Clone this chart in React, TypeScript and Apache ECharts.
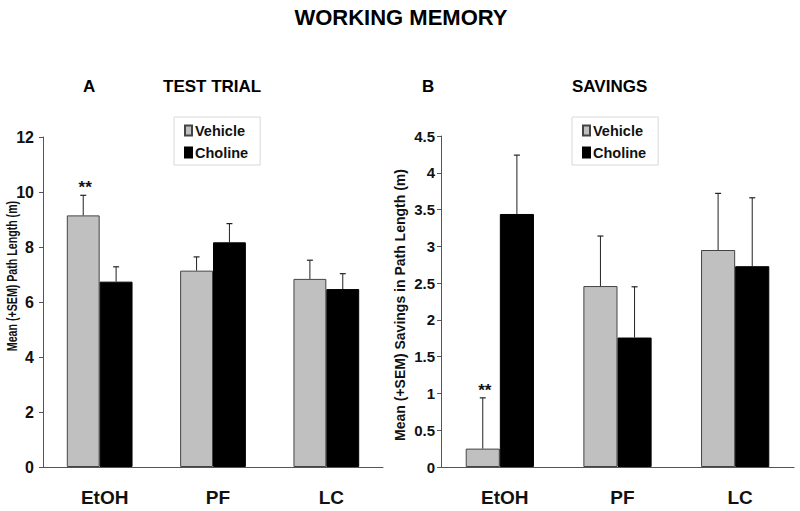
import React, { useEffect, useRef } from "react";
import * as echarts from "echarts";

const categories = ["EtOH", "PF", "LC"];
const seriesNames = ["Vehicle", "Choline"];

// Panel A: Test trial path length (m)
const trialVehicle = [9.15, 7.14, 6.84];
const trialVehicleSem = [0.73, 0.5, 0.68];
const trialCholine = [6.74, 8.17, 6.47];
const trialCholineSem = [0.54, 0.68, 0.56];
const trialSig = ["**", "", ""];
const trialMax = 12;
const trialInterval = 2;

// Panel B: Savings in path length (m)
const savingsVehicle = [0.25, 2.46, 2.95];
const savingsVehicleSem = [0.69, 0.68, 0.77];
const savingsCholine = [3.44, 1.76, 2.73];
const savingsCholineSem = [0.8, 0.69, 0.93];
const savingsSig = ["**", "", ""];
const savingsMax = 4.5;
const savingsInterval = 0.5;

const FONT = "'Liberation Sans', Arial, Helvetica, sans-serif";
const GAP = 0.42;

function errorSeries(
  name: string,
  axisIndex: number,
  means: number[],
  sems: number[],
  sig: string[],
  side: number
) {
  return {
    type: "custom",
    name,
    xAxisIndex: axisIndex,
    yAxisIndex: axisIndex,
    z: 5,
    data: means.map((m, i) => [i, m, m + sems[i]]),
    encode: { x: 0, y: [1, 2] },
    renderItem: (params: any, api: any) => {
      const idx = api.value(0);
      const bottom = api.coord([idx, api.value(1)]);
      const top = api.coord([idx, api.value(2)]);
      const catW = api.size([1, 0])[0];
      const barW = (catW * (1 - GAP)) / 2;
      const x = bottom[0] + (side * barW) / 2;
      const cap = 3;
      const children: any[] = [
        {
          type: "line",
          shape: { x1: x, y1: bottom[1], x2: x, y2: top[1] },
          style: { stroke: "#222", lineWidth: 1 },
        },
        {
          type: "line",
          shape: { x1: x - cap, y1: top[1], x2: x + cap, y2: top[1] },
          style: { stroke: "#222", lineWidth: 1.2 },
        },
      ];
      const s = sig[params.dataIndex];
      if (s) {
        children.push({
          type: "text",
          x: x + 2,
          y: top[1] + 1,
          style: {
            text: s,
            font: `bold 17px ${FONT}`,
            fill: "#111",
            textAlign: "center",
            textVerticalAlign: "bottom",
          },
        });
      }
      return { type: "group", children };
    },
  };
}

export default function App() {
  const ref = useRef<HTMLDivElement>(null);

  useEffect(() => {
    if (!ref.current) return;
    const chart = echarts.init(ref.current, null, { renderer: "svg" });

    const axisLine = { show: true, lineStyle: { color: "#555", width: 1 } };
    const yLabel = (margin: number, size: number) => ({
      fontFamily: FONT,
      fontWeight: "bold",
      fontSize: size,
      color: "#111",
      margin,
    });
    const xAxisCommon = {
      type: "category",
      data: categories,
      axisLine,
      axisTick: { show: false },
      axisLabel: {
        fontFamily: FONT,
        fontWeight: "bold",
        fontSize: 19,
        color: "#111",
        margin: 21,
        padding: [0, 0, 0, 10],
      },
    };

    const legendCommon = {
      orient: "vertical",
      top: 117,
      data: seriesNames,
      icon: "rect",
      itemWidth: 7,
      itemHeight: 10,
      itemGap: 7,
      padding: [6, 12, 5, 10],
      borderColor: "#d8d8d8",
      borderWidth: 1,
      textStyle: {
        fontFamily: FONT,
        fontWeight: "bold",
        fontSize: 14.5,
        color: "#111",
        padding: [0, 0, 0, -2],
      },
      selectedMode: false,
    };

    const vehStyle = { color: "#c0c0c0", borderColor: "#444", borderWidth: 1 };
    const choStyle = { color: "#000000", borderColor: "#000", borderWidth: 1 };

    chart.setOption({
      animation: false,
      backgroundColor: "#ffffff",
      grid: [
        { left: 43, right: 417, top: 137, bottom: 44 },
        { left: 441, right: 6, top: 136, bottom: 44 },
      ],
      legend: [
        { ...legendCommon, left: 174 },
        { ...legendCommon, left: 572 },
      ],
      xAxis: [
        { ...xAxisCommon, gridIndex: 0 },
        { ...xAxisCommon, gridIndex: 1 },
      ],
      yAxis: [
        {
          type: "value",
          gridIndex: 0,
          min: 0,
          max: trialMax,
          interval: trialInterval,
          axisLine,
          axisTick: { show: true, length: 4, lineStyle: { color: "#555" } },
          splitLine: { show: false },
          axisLabel: yLabel(9, 16),
        },
        {
          type: "value",
          gridIndex: 1,
          min: 0,
          max: savingsMax,
          interval: savingsInterval,
          axisLine,
          axisTick: { show: true, length: 4, lineStyle: { color: "#555" } },
          splitLine: { show: false },
          axisLabel: yLabel(6, 15),
        },
      ],
      graphic: [
        {
          type: "text",
          x: 401,
          y: 17,
          style: {
            text: "WORKING MEMORY",
            font: `bold 22px ${FONT}`,
            fill: "#000",
            textAlign: "center",
            textVerticalAlign: "middle",
          },
        },
        {
          type: "text",
          x: 83,
          y: 86,
          style: { text: "A", font: `bold 17px ${FONT}`, fill: "#000", textVerticalAlign: "middle" },
        },
        {
          type: "text",
          x: 163,
          y: 86,
          style: { text: "TEST TRIAL", font: `bold 17px ${FONT}`, fill: "#000", textVerticalAlign: "middle" },
        },
        {
          type: "text",
          x: 422,
          y: 86,
          style: { text: "B", font: `bold 17px ${FONT}`, fill: "#000", textVerticalAlign: "middle" },
        },
        {
          type: "text",
          x: 572,
          y: 86,
          style: { text: "SAVINGS", font: `bold 17px ${FONT}`, fill: "#000", textVerticalAlign: "middle" },
        },
        {
          type: "text",
          x: 12,
          y: 276,
          rotation: Math.PI / 2,
          scaleX: 0.76,
          style: {
            text: "Mean (+SEM) Path Length (m)",
            font: `bold 14px ${FONT}`,
            fill: "#111",
            textAlign: "center",
            textVerticalAlign: "middle",
          },
        },
        {
          type: "text",
          x: 400,
          y: 305,
          rotation: Math.PI / 2,
          style: {
            text: "Mean (+SEM) Savings in Path Length (m)",
            font: `bold 14px ${FONT}`,
            fill: "#111",
            textAlign: "center",
            textVerticalAlign: "middle",
          },
        },
      ],
      series: [
        {
          type: "bar",
          name: "Vehicle",
          xAxisIndex: 0,
          yAxisIndex: 0,
          data: trialVehicle,
          itemStyle: vehStyle,
          barGap: "0%",
          barCategoryGap: `${GAP * 100}%`,
        },
        {
          type: "bar",
          name: "Choline",
          xAxisIndex: 0,
          yAxisIndex: 0,
          data: trialCholine,
          itemStyle: choStyle,
          barGap: "0%",
          barCategoryGap: `${GAP * 100}%`,
        },
        {
          type: "bar",
          name: "Vehicle",
          xAxisIndex: 1,
          yAxisIndex: 1,
          data: savingsVehicle,
          itemStyle: vehStyle,
          barGap: "0%",
          barCategoryGap: `${GAP * 100}%`,
        },
        {
          type: "bar",
          name: "Choline",
          xAxisIndex: 1,
          yAxisIndex: 1,
          data: savingsCholine,
          itemStyle: choStyle,
          barGap: "0%",
          barCategoryGap: `${GAP * 100}%`,
        },
        errorSeries("errTrialVeh", 0, trialVehicle, trialVehicleSem, trialSig, -1),
        errorSeries("errTrialCho", 0, trialCholine, trialCholineSem, ["", "", ""], 1),
        errorSeries("errSavVeh", 1, savingsVehicle, savingsVehicleSem, savingsSig, -1),
        errorSeries("errSavCho", 1, savingsCholine, savingsCholineSem, ["", "", ""], 1),
      ],
    });

    return () => chart.dispose();
  }, []);

  return <div ref={ref} style={{ width: 800, height: 511, position: "absolute", left: 0, top: 0 }} />;
}
